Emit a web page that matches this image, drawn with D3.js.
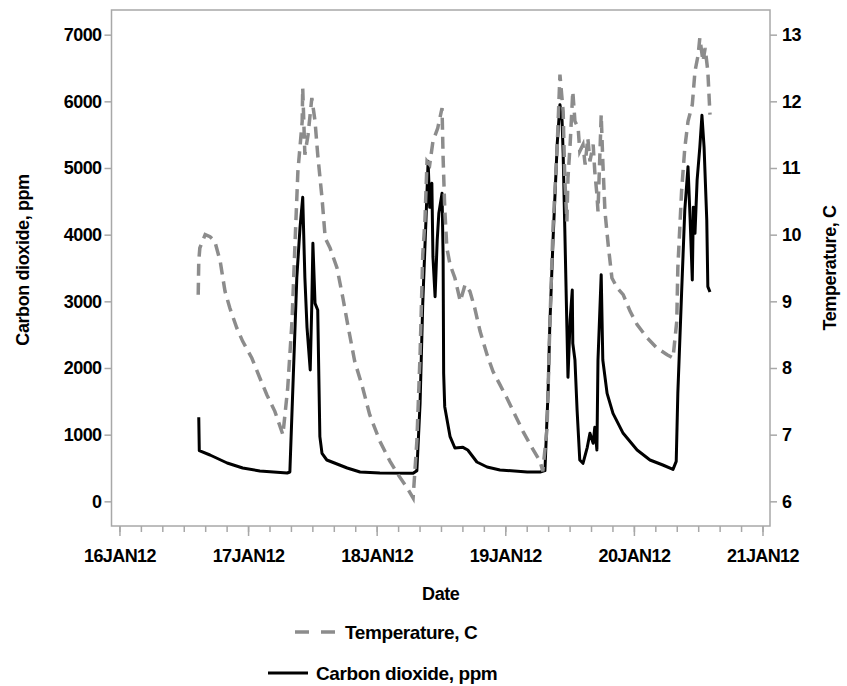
<!DOCTYPE html>
<html>
<head>
<meta charset="utf-8">
<script src="https://cdn.jsdelivr.net/npm/d3@7"></script>
<style>
    body { margin: 0; background: #fff; }
    svg { font-family: "Liberation Sans", Arial, sans-serif; font-weight: bold; }
</style>
</head>
<body>
<div class="chart"></div>
<script>
// hours counted from 16JAN12 00:00
const co2Hours = [14.8, 14.9, 16.9, 20.1, 23.0, 26.2, 31.3, 31.8, 33.1, 33.7, 34.2, 34.6, 35.0, 35.6, 35.9, 36.1, 36.5, 37.0, 37.4, 37.8,
    38.7, 42.5, 44.9, 48.6, 54.8, 55.5, 56.1, 56.6, 57.2, 57.6, 57.9, 58.3, 58.5, 58.9, 59.3, 59.6, 60.2, 60.4, 60.5, 60.7,
    61.7, 62.6, 64.1, 65.0, 66.7, 68.6, 71.0, 76.1, 78.5, 79.4, 80.0, 80.3, 80.9, 81.7, 82.2, 82.6, 82.8, 83.1, 83.5, 83.7,
    84.1, 84.5, 84.6, 85.0, 85.4, 85.9, 86.5, 87.3, 87.8, 88.4, 88.7, 89.1, 89.3, 89.9, 90.2, 91.0, 92.1, 94.0, 96.6, 99.0,
    101.4, 103.3, 103.9, 104.2, 104.9, 105.5, 106.1, 106.5, 106.9, 107.1, 107.4, 107.8, 108.3, 108.7, 109.1, 109.6, 109.8, 110.2];
const co2Ppm = [1260, 760, 695, 575, 500, 455, 425, 440, 3360, 4110, 4560, 3360, 2610, 1970, 2970, 3870, 2970, 2870, 970, 720,
    620, 500, 440, 425, 420, 460, 1470, 2970, 4220, 5100, 4410, 4770, 3670, 3070, 3920, 4320, 4620, 3670, 1920, 1420,
    970, 800, 810, 770, 590, 515, 470, 440, 440, 460, 1670, 2610, 3900, 5370, 5950, 5710, 5220, 4110, 2610, 1860,
    2720, 3170, 2370, 2120, 1370, 620, 570, 810, 1020, 870, 1110, 770, 2120, 3400, 2120, 1620, 1320, 1020, 770, 620,
    545, 480, 600, 1620, 3120, 4370, 5020, 4220, 3320, 4410, 4020, 4820, 5310, 5790, 5310, 4220, 3220, 3140];

const tempHours = [14.7, 14.8, 15.0, 16.0, 16.9, 17.8, 18.8, 19.7, 20.6, 21.9, 23.0, 24.7, 26.2, 27.5, 29.0, 30.5, 31.4, 32.2, 32.8, 33.3,
    34.1, 34.2, 34.6, 35.2, 35.9, 36.5, 37.0, 37.8, 38.4, 39.3, 40.6, 41.7, 42.6, 43.9, 45.4, 46.7, 48.6, 50.5, 52.0, 53.7,
    54.8, 55.5, 56.1, 56.6, 57.0, 57.4, 57.9, 58.5, 59.4, 60.2, 60.4, 60.7, 61.1, 61.7, 62.6, 63.6, 64.5, 65.4, 66.3, 67.3,
    68.6, 69.7, 71.0, 72.3, 73.8, 75.3, 77.0, 78.5, 79.0, 79.8, 80.3, 80.9, 81.7, 82.2, 82.8, 83.1, 83.5, 83.7, 84.1, 84.6,
    85.0, 85.6, 85.9, 86.5, 86.9, 87.4, 87.8, 88.4, 88.7, 89.1, 89.3, 89.9, 90.2, 90.6, 91.2, 91.9, 92.9, 94.0, 95.3, 96.6,
    98.5, 100.3, 102.2, 103.3, 104.0, 104.2, 104.9, 105.5, 106.1, 106.9, 107.4, 108.0, 108.3, 108.9, 109.3, 109.8, 110.2];
const tempC = [9.1, 9.6, 9.8, 10.0, 9.97, 9.9, 9.6, 9.15, 8.9, 8.6, 8.4, 8.15, 7.85, 7.6, 7.35, 7.0, 7.7, 8.7, 9.95, 10.95,
    11.7, 12.2, 11.2, 11.5, 12.05, 11.7, 11.2, 10.55, 9.95, 9.8, 9.5, 9.05, 8.65, 8.1, 7.7, 7.3, 6.9, 6.6, 6.4, 6.2,
    6.05, 6.9, 8.2, 9.7, 10.2, 11.1, 11.05, 11.4, 11.6, 11.9, 11.15, 10.4, 9.8, 9.55, 9.35, 9.0, 9.25, 9.15, 8.9, 8.55,
    8.2, 7.95, 7.75, 7.55, 7.3, 7.05, 6.8, 6.6, 6.45, 7.1, 8.6, 10.1, 11.35, 12.4, 11.85, 10.85, 10.2, 10.85, 11.35, 12.15,
    11.7, 11.6, 11.25, 11.35, 11.05, 11.45, 11.1, 11.35, 10.95, 10.6, 10.35, 11.8, 11.1, 10.35, 9.85, 9.35, 9.2, 9.1, 8.85, 8.65,
    8.45, 8.3, 8.2, 8.15, 8.7, 9.5, 10.65, 11.3, 11.7, 11.95, 12.45, 12.7, 12.95, 12.6, 12.8, 12.45, 11.8];

const co2Ticks = [0, 1000, 2000, 3000, 4000, 5000, 6000, 7000];
const tempTicks = [6, 7, 8, 9, 10, 11, 12, 13];
const dayLabels = ["16JAN12", "17JAN12", "18JAN12", "19JAN12", "20JAN12", "21JAN12"];

const startDate = new Date(2012, 0, 16);

let svg = d3.select(".chart").append("svg").attr("width", 847).attr("height", 686),
    margin = {top: 10, right: 77, bottom: 160, left: 111.5},
    width = +svg.attr("width") - margin.left - margin.right,
    height = +svg.attr("height") - margin.top - margin.bottom,
    g = svg.append("g").attr("transform", "translate(" + margin.left + "," + margin.top + ")");

let axisColor = "#a8a8a8";

let x = d3.scaleTime()
    .domain([d3.timeMinute.offset(startDate, -89), d3.timeMinute.offset(startDate, 5 * 24 * 60 + 84)])
    .range([0, width]);

let yCo2 = d3.scaleLinear().domain([-370, 7370]).range([height, 0]);
let yTemp = d3.scaleLinear().domain([5.63, 13.37]).range([height, 0]);

function hourToDate(h) {
    return new Date(startDate.getTime() + h * 3600 * 1000);
}

let co2Data = co2Hours.map(function (h, i) {
    return {date: hourToDate(h), value: co2Ppm[i]};
});
let tempData = tempHours.map(function (h, i) {
    return {date: hourToDate(h), value: tempC[i]};
});

let dayDates = dayLabels.map(function (d, i) {
    return d3.timeDay.offset(startDate, i);
});

// frame
g.append("rect")
    .attr("width", width).attr("height", height)
    .attr("fill", "none").attr("stroke", axisColor).attr("stroke-width", 1.5);

// minor ticks every 4 hours
g.append("g")
    .attr("class", "x-minor")
    .attr("transform", "translate(0," + height + ")")
    .call(d3.axisBottom(x).ticks(d3.timeHour.every(4)).tickSize(6).tickSizeOuter(0).tickFormat(""));

g.append("g")
    .attr("class", "x-major")
    .attr("transform", "translate(0," + height + ")")
    .call(d3.axisBottom(x).tickValues(dayDates).tickSize(10).tickSizeOuter(0).tickPadding(13)
        .tickFormat(function (d, i) { return dayLabels[i]; }));

g.append("g")
    .attr("class", "y-left")
    .call(d3.axisLeft(yCo2).tickValues(co2Ticks).tickSize(7).tickSizeOuter(0).tickPadding(3)
        .tickFormat(d3.format("d")));

g.append("g")
    .attr("class", "y-right")
    .attr("transform", "translate(" + width + ",0)")
    .call(d3.axisRight(yTemp).tickValues(tempTicks).tickSize(7).tickSizeOuter(0).tickPadding(5));

g.selectAll(".domain").remove();
g.selectAll(".tick line").attr("stroke", axisColor).attr("stroke-width", 1.5);
g.selectAll(".tick text")
    .attr("fill", "#000")
    .attr("font-family", "'Liberation Sans', Arial, sans-serif")
    .attr("font-weight", "bold")
    .attr("font-size", 18)
    .attr("letter-spacing", "-0.6px");

// lines
g.append("path")
    .datum(co2Data)
    .attr("fill", "none")
    .attr("stroke", "#000")
    .attr("stroke-width", 3)
    .attr("stroke-linejoin", "round")
    .attr("d", d3.line()
        .x(function (d) { return x(d.date); })
        .y(function (d) { return yCo2(d.value); }));

g.append("path")
    .datum(tempData)
    .attr("fill", "none")
    .attr("stroke", "#8c8c8c")
    .attr("stroke-width", 3.5)
    .attr("stroke-dasharray", "12,7")
    .attr("d", d3.line()
        .x(function (d) { return x(d.date); })
        .y(function (d) { return yTemp(d.value); }));

// axis titles
g.append("text")
    .attr("transform", "translate(-89," + (height / 2 - 8) + ") rotate(-90)")
    .attr("text-anchor", "middle")
    .attr("dy", "0.35em")
    .attr("font-size", 18)
    .attr("letter-spacing", "-0.4px")
    .text("Carbon dioxide, ppm");

g.append("text")
    .attr("transform", "translate(" + (width + 60) + "," + (height / 2) + ") rotate(-90)")
    .attr("text-anchor", "middle")
    .attr("dy", "0.35em")
    .attr("font-size", 18)
    .attr("letter-spacing", "-0.4px")
    .text("Temperature, C");

g.append("text")
    .attr("x", width / 2)
    .attr("y", height + 68)
    .attr("text-anchor", "middle")
    .attr("dy", "0.35em")
    .attr("font-size", 18)
    .attr("letter-spacing", "-0.4px")
    .text("Date");

// legend
let legend = svg.append("g").attr("class", "legend");

legend.append("line")
    .attr("x1", 295).attr("x2", 336).attr("y1", 632).attr("y2", 632)
    .attr("stroke", "#8c8c8c").attr("stroke-width", 3.5).attr("stroke-dasharray", "14,12");
legend.append("text")
    .attr("x", 345).attr("y", 632).attr("dy", "0.35em")
    .attr("font-size", 19).attr("letter-spacing", "-0.4px")
    .text("Temperature, C");

legend.append("line")
    .attr("x1", 268).attr("x2", 308).attr("y1", 673).attr("y2", 673)
    .attr("stroke", "#000").attr("stroke-width", 3);
legend.append("text")
    .attr("x", 316).attr("y", 673).attr("dy", "0.35em")
    .attr("font-size", 19).attr("letter-spacing", "-0.4px")
    .text("Carbon dioxide, ppm");
</script>
</body>
</html>
